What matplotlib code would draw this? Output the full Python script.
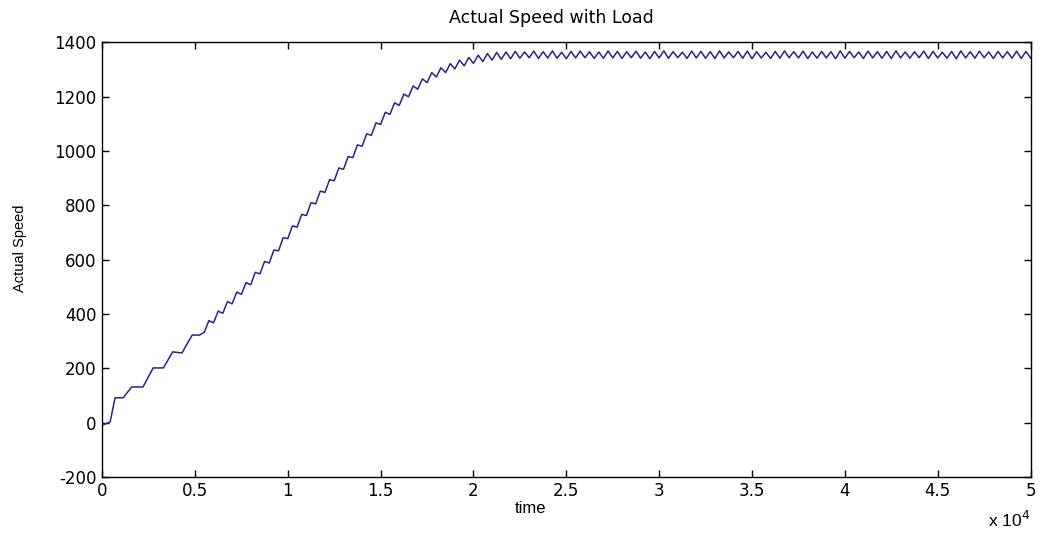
import numpy as np
import matplotlib
matplotlib.use('Agg')
import matplotlib.pyplot as plt

plt.rcParams['axes.unicode_minus'] = False

# start-up steps (time, speed)
t_start = [0, 430, 700, 1130, 1600, 2200, 2750, 3300, 3800, 4300, 4850, 5250]
v_start = [-10, 2, 91, 91, 131, 131, 201, 201, 260, 256, 322, 322]

# ramp turning points every 250 time units, from 5500 to 22000
v_ramp = [332, 375, 367, 410, 402, 445, 437, 480, 472, 515,
          507, 553, 547, 593, 587, 635, 632, 680, 677, 724,
          719, 766, 762, 809, 805, 852, 847, 894, 890, 937,
          932, 979, 975, 1022, 1017, 1063, 1057, 1103, 1097, 1142,
          1134, 1177, 1167, 1209, 1199, 1239, 1227, 1265, 1251, 1288,
          1272, 1306, 1288, 1321, 1302, 1334, 1313, 1344, 1322, 1352,
          1329, 1358, 1334, 1362, 1337, 1364, 1339]

# steady state ripple, peaks and troughs from 22250 to 50000
steady_peaks = [1366, 1364, 1367, 1365, 1368, 1363, 1366, 1367, 1365, 1364,
                1368, 1366, 1365, 1367, 1364, 1366, 1368, 1365, 1363, 1367,
                1366, 1365, 1368, 1364, 1366, 1367, 1365, 1363, 1366, 1368,
                1365, 1367, 1364, 1366, 1365, 1368, 1366, 1364, 1367, 1365,
                1366, 1368, 1364, 1365, 1367, 1366, 1363, 1366, 1368, 1365,
                1367, 1364, 1366, 1365, 1367, 1366]
steady_troughs = [1341, 1343, 1340, 1342, 1341, 1339, 1342, 1343, 1340, 1341,
                  1342, 1340, 1343, 1341, 1339, 1342, 1341, 1343, 1340, 1342,
                  1341, 1340, 1342, 1343, 1341, 1339, 1342, 1340, 1341, 1343,
                  1342, 1340, 1341, 1342, 1339, 1341, 1343, 1340, 1342, 1341,
                  1340, 1342, 1341, 1343, 1340, 1342, 1341, 1339, 1342, 1341,
                  1343, 1340, 1342, 1341, 1340, 1342]

v_steady = []
for p, q in zip(steady_peaks, steady_troughs):
    v_steady += [p, q]

t_osc = np.arange(5500, 50001, 250)
t = np.concatenate([t_start, t_osc])
v = np.concatenate([v_start, v_ramp, v_steady])

xtick_labels = ['0', '0.5', '1', '1.5', '2', '2.5', '3', '3.5', '4', '4.5', '5']
yticks = [-200, 0, 200, 400, 600, 800, 1000, 1200, 1400]

fig = plt.figure(figsize=(10.42, 5.34), dpi=100)
ax = fig.add_axes([0.098, 0.107, 0.891, 0.814])
ax.plot(t, v, color='#24248f', linewidth=1.1)

ax.set_xlim(0, 50000)
ax.set_ylim(-200, 1400)
ax.set_xticks(np.arange(0, 50001, 5000))
ax.set_xticklabels(xtick_labels)
ax.set_yticks(yticks)
ax.tick_params(direction='in', top=True, right=True, length=5, width=1,
               labelsize=12, colors='black', pad=4)
for s in ax.spines.values():
    s.set_linewidth(1)

ax.text(0.484, 1.035, 'Actual Speed with Load', transform=ax.transAxes,
        ha='center', va='bottom', fontsize=12.5, family='DejaVu Sans')
ax.set_xlabel('time', fontsize=12, family='Liberation Sans')
ax.xaxis.set_label_coords(0.461, -0.055)
ax.set_ylabel('Actual Speed', fontsize=10.5, family='Liberation Sans')
ax.yaxis.set_label_coords(-0.081, 0.526)
ax.text(1.0, -0.075, r'x 10$^4$', transform=ax.transAxes, ha='right', va='top',
        fontsize=12.5, family='Liberation Sans')

fig.savefig('out.png', dpi=100)
